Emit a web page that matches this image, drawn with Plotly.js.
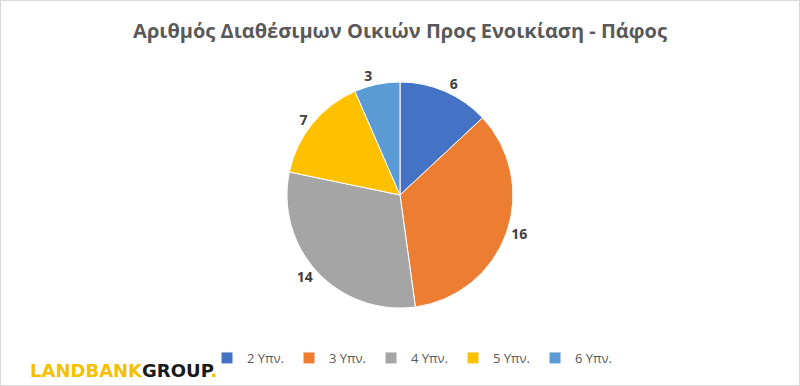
<!DOCTYPE html>
<html>
<head>
<meta charset="utf-8">
<script src="https://cdn.plot.ly/plotly-3.0.1.min.js"></script>
<style>html,body{margin:0;padding:0;background:#fff;}#chart{width:800px;height:386px;}</style>
</head>
<body>
<div id="chart"></div>
<script>
const categories = ["2 Υπν.", "3 Υπν.", "4 Υπν.", "5 Υπν.", "6 Υπν."];
const values = [6, 16, 14, 7, 3];
const colors = ["#4472C4", "#ED7D31", "#A5A5A5", "#FFC000", "#5B9BD5"];
const chartTitle = "Αριθμός Διαθέσιμων Οικιών Προς Ενοικίαση - Πάφος";

const H = 386;
const trace = {
  type: "pie",
  labels: categories,
  values: values,
  sort: false,
  direction: "clockwise",
  rotation: 0,
  marker: {colors: colors, line: {color: "#ffffff", width: 1}},
  textinfo: "value",
  textposition: "outside",
  outsidetextfont: {family: "Open Sans, sans-serif", size: 14, color: "#404040", weight: "bold"},
  hoverinfo: "label+value",
  domain: {x: [0, 1], y: [(H - 308) / H, (H - 82) / H]}
};

const layout = {
  width: 800, height: 386,
  margin: {l: 0, r: 0, t: 0, b: 0},
  paper_bgcolor: "#ffffff",
  font: {family: "Open Sans, sans-serif", color: "#595959"},
  title: {
    text: "<b>" + chartTitle + "</b>",
    font: {family: "Open Sans, sans-serif", size: 20, color: "#595959"},
    x: 0.5, xanchor: "center", y: 1 - 31 / H, yanchor: "middle"
  },
  showlegend: true,
  legend: {
    orientation: "h", x: 0.515, xanchor: "center", y: 1 - 358 / H, yanchor: "middle",
    font: {family: "Open Sans, sans-serif", size: 13, color: "#595959"},
    itemwidth: 30, traceorder: "normal"
  },
  shapes: [{
    type: "rect", xref: "paper", yref: "paper", x0: 0, x1: 1, y0: 0, y1: 1,
    line: {color: "#d9d9d9", width: 2}
  }],
  annotations: [{
    xref: "paper", yref: "paper", x: 28 / 800, xanchor: "left", y: 1 - 370 / H, yanchor: "middle",
    showarrow: false,
    text: "<b><span style='color:#F5C000'>LANDBANK</span><span style='color:#1a1a1a'>GROUP</span><span style='color:#F5C000'>.</span></b>",
    font: {family: "DejaVu Sans, sans-serif", size: 18, color: "#F5C000"}
  }]
};

Plotly.newPlot("chart", [trace], layout, {displayModeBar: false, staticPlot: true});
</script>
</body>
</html>
